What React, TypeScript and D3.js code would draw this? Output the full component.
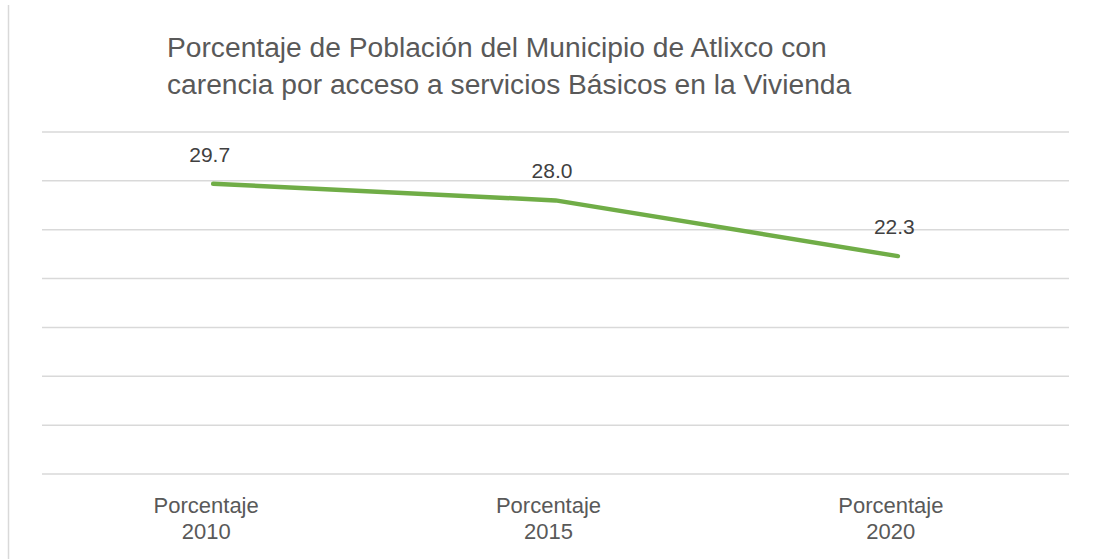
import React from "react";
import * as d3 from "d3";

const categories: string[][] = [
  ["Porcentaje", "2010"],
  ["Porcentaje", "2015"],
  ["Porcentaje", "2020"],
];
const values: number[] = [29.7, 28.0, 22.3];
const yTicks: number[] = [0, 5, 10, 15, 20, 25, 30, 35];
const titleLines: string[] = [
  "Porcentaje de Población del Municipio de Atlixco con",
  "carencia por acceso a servicios Básicos en la Vivienda",
];

const W = 1093;
const H = 559;
const font = "'Liberation Sans', Arial, sans-serif";

export default function App() {
  const keys = categories.map((c) => c.join(" "));
  const x = d3.scaleBand<string>().domain(keys).range([42, 1069]);
  const y = d3.scaleLinear().domain([0, 35]).range([474, 132]);
  const cx = (i: number) => (x(keys[i]) as number) + x.bandwidth() / 2;
  const line = d3
    .line<number>()
    .x((_, i) => cx(i))
    .y((d) => y(d));

  return (
    <svg
      width={W}
      height={H}
      style={{ position: "absolute", left: 0, top: 0, background: "#fff" }}
    >
      <line x1={8.5} x2={8.5} y1={5} y2={H} stroke="#d9d9d9" strokeWidth={1.5} />
      {titleLines.map((t, i) => (
        <text
          key={i}
          x={167}
          y={57 + i * 37}
          fontFamily={font}
          fontSize={28.2}
          fill="#595959"
        >
          {t}
        </text>
      ))}
      {yTicks.map((t) => (
        <line
          key={t}
          x1={42}
          x2={1069}
          y1={y(t)}
          y2={y(t)}
          stroke="#d9d9d9"
          strokeWidth={1.5}
        />
      ))}
      <path
        d={line(values) || ""}
        fill="none"
        stroke="#70AD47"
        strokeWidth={4.5}
        strokeLinecap="round"
        strokeLinejoin="round"
      />
      {values.map((v, i) => (
        <text
          key={i}
          x={cx(i) - 3.5}
          y={y(v) - 22}
          textAnchor="middle"
          fontFamily={font}
          fontSize={21}
          fill="#404040"
        >
          {v.toFixed(1)}
        </text>
      ))}
      {categories.map((c, i) => (
        <text
          key={i}
          textAnchor="middle"
          fontFamily={font}
          fontSize={22}
          fill="#595959"
        >
          {c.map((l, j) => (
            <tspan key={j} x={cx(i) - 7} y={513 + j * 26}>
              {l}
            </tspan>
          ))}
        </text>
      ))}
    </svg>
  );
}
